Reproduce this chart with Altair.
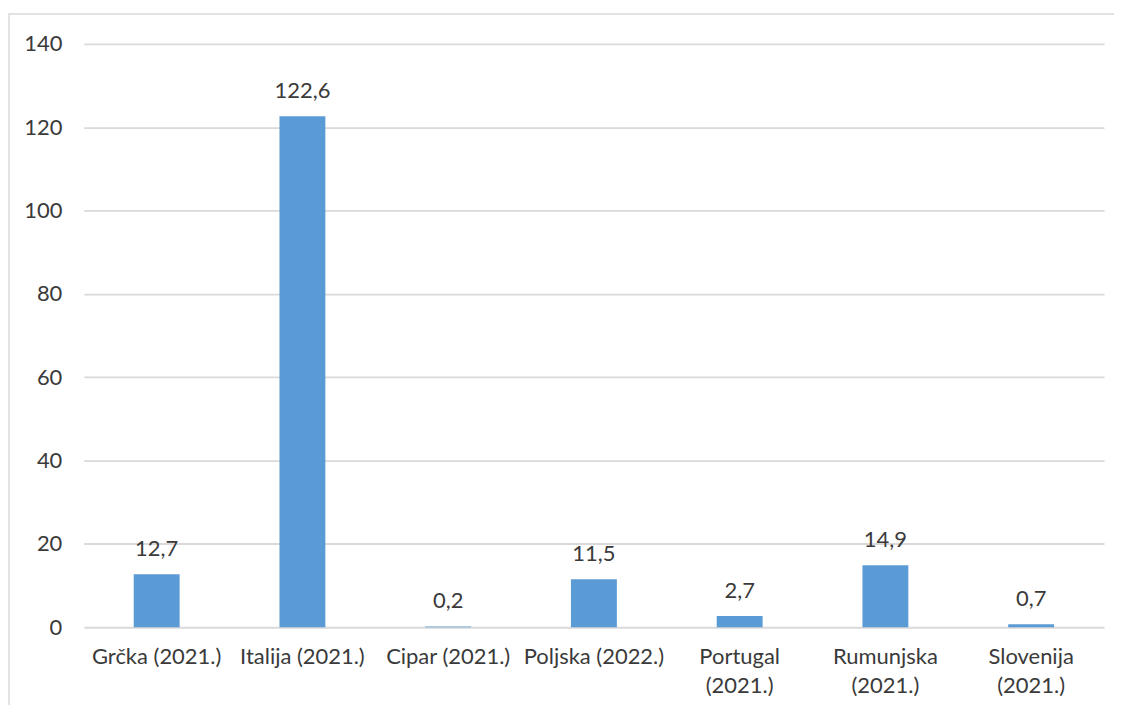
import altair as alt
import pandas as pd

countries = ["Grčka (2021.)", "Italija (2021.)", "Cipar (2021.)", "Poljska (2022.)",
             "Portugal (2021.)", "Rumunjska (2021.)", "Slovenija (2021.)"]
values = [12.7, 122.6, 0.2, 11.5, 2.7, 14.9, 0.7]
y_ticks = [0, 20, 40, 60, 80, 100, 120, 140]

df = pd.DataFrame({"country": countries, "value": values})

FONT = "Lato"
FS = 22
TXT = "#3a3a3a"

x_enc = alt.X(
    "country:N", sort=countries, title=None,
    scale=alt.Scale(paddingInner=0.685, paddingOuter=0.3425),
    axis=alt.Axis(labelAngle=0, labelFont=FONT, labelFontSize=FS, labelColor=TXT,
                  labelPadding=19, labelLineHeight=29, labelLimit=0,
                  labelExpr="length(datum.label) > 15 ? split(datum.label, ' ') : datum.label",
                  domain=False, ticks=False, grid=False),
)
y_enc = alt.Y(
    "value:Q", title=None,
    scale=alt.Scale(domain=[0, 140], nice=False),
    axis=alt.Axis(values=y_ticks, labelFont=FONT, labelFontSize=FS, labelColor=TXT,
                  labelPadding=22, domain=False, ticks=False,
                  gridColor="#d9d9d9", gridWidth=1.8),
)

base = alt.Chart(df)
bars = base.mark_bar(color="#5B9BD5").encode(x=x_enc, y=y_enc)
labels = base.transform_calculate(
    lbl="replace(format(datum.value, '.1f'), '.', ',')"
).mark_text(font=FONT, fontSize=FS, color=TXT, baseline="alphabetic", dy=-18).encode(
    x=alt.X("country:N", sort=countries),
    y=alt.Y("value:Q"),
    text="lbl:N",
)
border = alt.Chart(pd.DataFrame({"a": [0]})).mark_rect(
    fillOpacity=0, stroke="#d9d9d9", strokeWidth=1.5
).encode(x=alt.value(-75), x2=alt.value(1400), y=alt.value(-30), y2=alt.value(1000))

chart = alt.layer(border, bars, labels).properties(
    width=1023, height=585,
    padding={"left": 76, "top": 35, "right": 10, "bottom": 77},
    autosize=alt.AutoSizeParams(type="none"),
    background="white",
).configure_view(stroke=None)

chart.save("out.html", embed_options={"renderer": "svg", "actions": False})
